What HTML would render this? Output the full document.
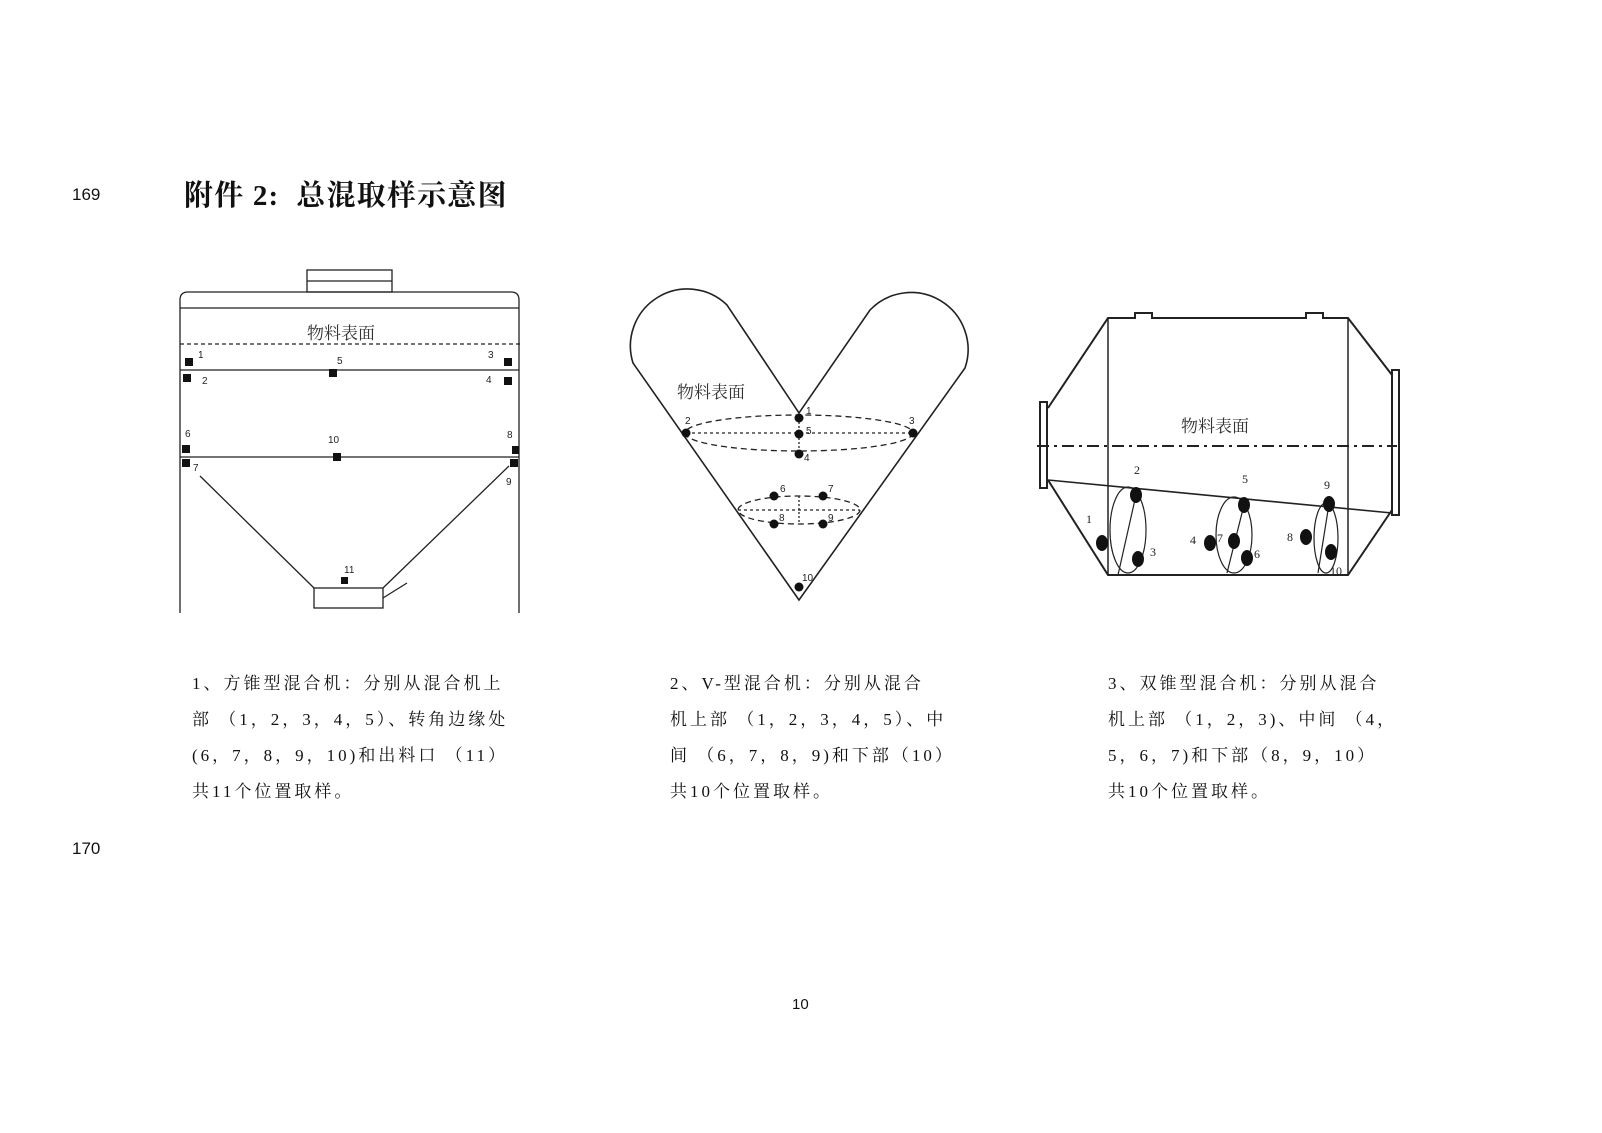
<!DOCTYPE html>
<html><head><meta charset="utf-8"><style>
html,body{margin:0;padding:0;background:#fff;}
body{width:1602px;height:1133px;position:relative;overflow:hidden;font-family:"Liberation Serif","Noto Serif CJK SC",serif;color:#111;}
.a{position:absolute;white-space:pre;}
.cap{font-family:"Liberation Serif","Noto Serif CJK SC",serif;font-size:17px;letter-spacing:3px;line-height:20px;}
</style></head><body>
<div class="a" style="left:72px;top:185px;font-size:17px;font-family:'Liberation Sans',sans-serif;">169</div>
<div class="a" style="left:184px;top:173px;font-size:29px;font-weight:bold;font-family:'Liberation Serif','Noto Serif CJK SC',serif;letter-spacing:1.2px;">附件 2:  总混取样示意图</div>
<div class="a" style="left:72px;top:839px;font-size:17px;font-family:'Liberation Sans',sans-serif;">170</div>
<div class="a" style="left:792px;top:996px;font-size:15px;font-family:'Liberation Sans',sans-serif;">10</div>

<div class="a cap" style="left:192px;top:674px;">1、方锥型混合机：分别从混合机上</div>
<div class="a cap" style="left:192px;top:710px;">部 （1，2，3，4，5）、转角边缘处</div>
<div class="a cap" style="left:192px;top:746px;">(6，7，8，9，10)和出料口 （11）</div>
<div class="a cap" style="left:192px;top:782px;">共11个位置取样。</div>

<div class="a cap" style="left:670px;top:674px;">2、V-型混合机：分别从混合</div>
<div class="a cap" style="left:670px;top:710px;">机上部 （1，2，3，4，5）、中</div>
<div class="a cap" style="left:670px;top:746px;">间 （6，7，8，9)和下部（10）</div>
<div class="a cap" style="left:670px;top:782px;">共10个位置取样。</div>

<div class="a cap" style="left:1108px;top:674px;">3、双锥型混合机：分别从混合</div>
<div class="a cap" style="left:1108px;top:710px;">机上部 （1，2，3)、中间 （4，</div>
<div class="a cap" style="left:1108px;top:746px;">5，6，7)和下部（8，9，10）</div>
<div class="a cap" style="left:1108px;top:782px;">共10个位置取样。</div>

<svg class="a" style="left:0;top:0" width="1602" height="1133" viewBox="0 0 1602 1133">
<g fill="none" stroke="#222" stroke-width="1.3">
<rect x="307" y="270" width="85" height="22"/>
<line x1="307" y1="281" x2="392" y2="281"/>
<path d="M180,613 V300 Q180,292 188,292 H511 Q519,292 519,300 V613"/>
<line x1="180" y1="308" x2="519" y2="308"/>
<line x1="180" y1="344" x2="521" y2="344" stroke-dasharray="4,3"/>
<line x1="180" y1="370" x2="519" y2="370"/>
<line x1="180" y1="457" x2="519" y2="457"/>
<line x1="200" y1="476" x2="314" y2="588"/>
<line x1="509" y1="466" x2="383" y2="588"/>
<rect x="314" y="588" width="69" height="20"/>
<line x1="383" y1="598" x2="407" y2="583"/>
</g>
<g fill="#111">
<rect x="185" y="358" width="8" height="8"/><rect x="183" y="374" width="8" height="8"/>
<rect x="504" y="358" width="8" height="8"/><rect x="504" y="377" width="8" height="8"/>
<rect x="329" y="369" width="8" height="8"/><rect x="182" y="445" width="8" height="8"/>
<rect x="333" y="453" width="8" height="8"/><rect x="512" y="446" width="7" height="8"/>
<rect x="182" y="459" width="8" height="8"/><rect x="510" y="459" width="8" height="8"/>
<rect x="341" y="577" width="7" height="7"/>
</g>
<g font-family="Liberation Sans,sans-serif" font-size="10" fill="#222">
<text x="198" y="358">1</text><text x="202" y="384">2</text><text x="488" y="358">3</text><text x="486" y="383">4</text>
<text x="337" y="364">5</text><text x="185" y="437">6</text><text x="328" y="443">10</text><text x="507" y="438">8</text>
<text x="193" y="471">7</text><text x="506" y="485">9</text><text x="344" y="573">11</text>
</g>
<text x="307" y="339" font-size="17" font-family="Liberation Serif,Noto Serif CJK SC,serif" fill="#333">物料表面</text>

<g fill="none" stroke="#222" stroke-width="1.6">
<path d="M799,600 L633,363 A57,57 0 0 1 727,305 L799,413 L870,310 A57,57 0 0 1 965,368 Z"/>
</g>
<g fill="none" stroke="#222" stroke-width="1.3" stroke-dasharray="6,4">
<ellipse cx="799" cy="433" rx="114" ry="18"/>
<line x1="686" y1="433" x2="913" y2="433" stroke-dasharray="3,3"/>
<line x1="799" y1="418" x2="799" y2="454" stroke-dasharray="2,2"/>
<ellipse cx="799" cy="510" rx="61" ry="14"/>
<line x1="738" y1="510" x2="860" y2="510" stroke-dasharray="3,3"/>
<line x1="799" y1="496" x2="799" y2="524" stroke-dasharray="2,2"/>
</g>
<g fill="#111">
<circle cx="799" cy="418" r="4.5"/><circle cx="799" cy="434" r="4.5"/><circle cx="799" cy="454" r="4.5"/>
<circle cx="686" cy="433" r="4.5"/><circle cx="913" cy="433" r="4.5"/>
<circle cx="774" cy="496" r="4.5"/><circle cx="823" cy="496" r="4.5"/><circle cx="774" cy="524" r="4.5"/><circle cx="823" cy="524" r="4.5"/>
<circle cx="799" cy="587" r="4.5"/>
</g>
<g font-family="Liberation Sans,sans-serif" font-size="10" fill="#222">
<text x="806" y="414">1</text><text x="685" y="424">2</text><text x="909" y="424">3</text><text x="804" y="461">4</text><text x="806" y="434">5</text>
<text x="780" y="492">6</text><text x="828" y="492">7</text><text x="779" y="521">8</text><text x="828" y="521">9</text><text x="802" y="581">10</text>
</g>
<text x="677" y="398" font-size="17" font-family="Liberation Serif,Noto Serif CJK SC,serif" fill="#333">物料表面</text>

<g fill="none" stroke="#222" stroke-width="2">
<rect x="1040" y="402" width="7" height="86"/>
<path d="M1048,408 L1108,318 H1135 V313 H1152 V318 H1306 V313 H1323 V318 H1348 L1392,375"/>
<path d="M1048,480 L1108,575 H1348 L1392,510"/>
<line x1="1108" y1="318" x2="1108" y2="575" stroke-width="1.5"/>
<line x1="1348" y1="318" x2="1348" y2="575" stroke-width="1.5"/>
<rect x="1392" y="370" width="7" height="145"/>
<line x1="1048" y1="480" x2="1392" y2="513" stroke-width="1.6"/>
<line x1="1037" y1="446" x2="1397" y2="446" stroke-dasharray="12,5,3,5"/>
</g>
<g fill="none" stroke="#222" stroke-width="1.2">
<ellipse cx="1128" cy="530" rx="18" ry="43"/><line x1="1136" y1="495" x2="1118" y2="575"/>
<ellipse cx="1234" cy="535" rx="18" ry="38"/><line x1="1244" y1="505" x2="1227" y2="573"/>
<ellipse cx="1326" cy="538" rx="12" ry="35"/><line x1="1329" y1="504" x2="1318" y2="573"/>
</g>
<g fill="#111">
<ellipse cx="1136" cy="495" rx="6" ry="8"/><ellipse cx="1102" cy="543" rx="6" ry="8"/><ellipse cx="1138" cy="559" rx="6" ry="8"/>
<ellipse cx="1244" cy="505" rx="6" ry="8"/><ellipse cx="1210" cy="543" rx="6" ry="8"/><ellipse cx="1234" cy="541" rx="6" ry="8"/><ellipse cx="1247" cy="558" rx="6" ry="8"/>
<ellipse cx="1329" cy="504" rx="6" ry="8"/><ellipse cx="1306" cy="537" rx="6" ry="8"/><ellipse cx="1331" cy="552" rx="6" ry="8"/>
</g>
<g font-family="Liberation Serif,serif" font-size="12" fill="#222">
<text x="1086" y="523">1</text><text x="1134" y="474">2</text><text x="1150" y="556">3</text>
<text x="1190" y="544">4</text><text x="1242" y="483">5</text><text x="1254" y="558">6</text><text x="1217" y="542">7</text>
<text x="1287" y="541">8</text><text x="1324" y="489">9</text><text x="1330" y="575">10</text>
</g>
<text x="1181" y="432" font-size="17" font-family="Liberation Serif,Noto Serif CJK SC,serif" fill="#333">物料表面</text>
</svg>
</body></html>
